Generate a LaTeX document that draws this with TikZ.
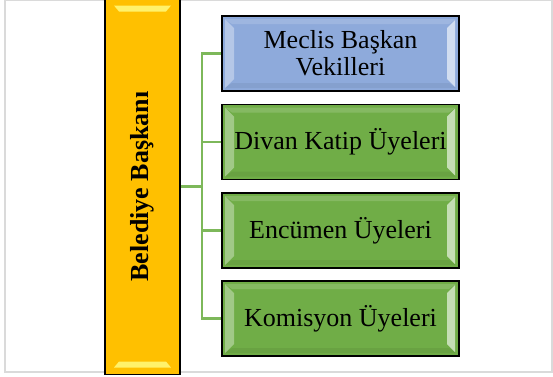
\documentclass[tikz,border=0pt]{standalone}
\usepackage{fontspec}
\setmainfont{Liberation Serif}
\definecolor{barorange}{HTML}{FFC000}
\definecolor{barlight}{HTML}{FFF26B}
\definecolor{boxblue}{HTML}{8EAADB}
\definecolor{boxgreen}{HTML}{70AD47}
\definecolor{linkgreen}{HTML}{7DB85A}
\definecolor{framegray}{HTML}{DADADA}
\begin{document}
\begin{tikzpicture}[x=1pt,y=-1pt,
  bevel/.style={path picture={
    \fill[white,opacity=.35] ([shift={(3pt,-3pt)}]path picture bounding box.north west) -- ([shift={(12pt,-12pt)}]path picture bounding box.north west) -- ([shift={(12pt,12pt)}]path picture bounding box.south west) -- ([shift={(3pt,3pt)}]path picture bounding box.south west) -- cycle;
    \fill[white,opacity=.6] ([shift={(-4pt,-4pt)}]path picture bounding box.north east) -- ([shift={(-12pt,-12pt)}]path picture bounding box.north east) -- ([shift={(-12pt,12pt)}]path picture bounding box.south east) -- ([shift={(-4pt,4pt)}]path picture bounding box.south east) -- cycle;
    \fill[white,opacity=.15] ([shift={(3pt,-3pt)}]path picture bounding box.north west) -- ([shift={(-3pt,-3pt)}]path picture bounding box.north east) -- ([shift={(-10pt,-8pt)}]path picture bounding box.north east) -- ([shift={(10pt,-8pt)}]path picture bounding box.north west) -- cycle;
    \fill[black,opacity=.06] ([shift={(3pt,3pt)}]path picture bounding box.south west) -- ([shift={(-3pt,3pt)}]path picture bounding box.south east) -- ([shift={(-10pt,8pt)}]path picture bounding box.south east) -- ([shift={(10pt,8pt)}]path picture bounding box.south west) -- cycle;
  }},
  member/.style={draw=black,line width=1.6pt,bevel,minimum width=237pt,minimum height=75pt,
    align=center,font=\fontsize{26}{27}\selectfont,inner sep=0pt},
  link/.style={draw=linkgreen,line width=2.8pt}]
\useasboundingbox (0,0) rectangle (553,376);
\draw[framegray,line width=1.2pt] (5,0.6) rectangle (552,372);
% mayor bar
\node[draw=black,line width=1.6pt,fill=barorange,minimum width=75pt,minimum height=376pt,inner sep=0pt,
  path picture={
    \fill[barlight] ([shift={(9pt,-7pt)}]path picture bounding box.north west) -- ([shift={(-9pt,-7pt)}]path picture bounding box.north east) -- ([shift={(-14pt,-13pt)}]path picture bounding box.north east) -- ([shift={(14pt,-13pt)}]path picture bounding box.north west) -- cycle;
    \fill[barlight] ([shift={(9pt,7pt)}]path picture bounding box.south west) -- ([shift={(-9pt,7pt)}]path picture bounding box.south east) -- ([shift={(-14pt,13pt)}]path picture bounding box.south east) -- ([shift={(14pt,13pt)}]path picture bounding box.south west) -- cycle;
  }] (bar) at (142.5,186.5) {};
\node[rotate=90,font=\fontsize{26}{27}\selectfont\bfseries] (baslik) at (bar.center) {Belediye Başkanı};
% members
\node[member,fill=boxblue] (m1) at (340.5,53.5) {Meclis Başkan\\Vekilleri};
\node[member,fill=boxgreen] (m2) at (340.5,142) {Divan Katip Üyeleri};
\node[member,fill=boxgreen] (m3) at (340.5,230.5) {Encümen Üyeleri};
\node[member,fill=boxgreen] (m4) at (340.5,318.5) {Komisyon Üyeleri};
% links
\coordinate (jn) at (202,186.5);
\draw[link] (bar.east) -- (jn);
\draw[link] (jn) |- (m1.west);
\draw[link] (jn) |- (m2.west);
\draw[link] (jn) |- (m3.west);
\draw[link] (jn) |- (m4.west);
\end{tikzpicture}
\end{document}
